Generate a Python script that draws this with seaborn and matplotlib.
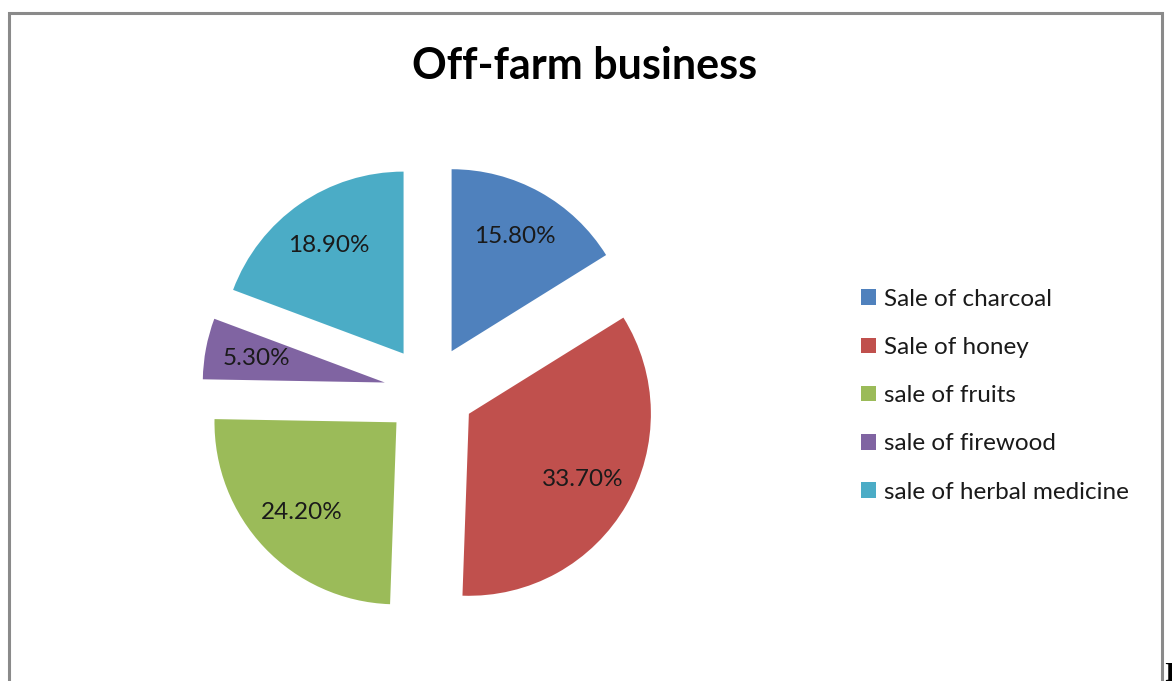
import matplotlib
matplotlib.use("Agg")
import matplotlib.pyplot as plt
from matplotlib.patches import Rectangle, Patch
import seaborn as sns

# Off-farm business activities and their shares (%)
categories = ["Sale of charcoal", "Sale of honey", "sale of fruits",
              "sale of firewood", "sale of herbal medicine"]
shares = [15.8, 33.7, 24.2, 5.3, 18.9]
colors = ["#4F81BD", "#C0504D", "#9BBB59", "#8064A2", "#4BACC6"]
title = "Off-farm business"

sns.set_theme(style="white")
plt.rcParams["font.family"] = ["Lato", "DejaVu Sans"]

W, H = 1172, 681
fig = plt.figure(figsize=(W / 100, H / 100), dpi=100)
fig.patch.set_facecolor("white")

# chart border (bottom edge runs off the canvas)
fig.patches.append(Rectangle((9 / W, -0.05), (1162 - 9) / W, 1.05 - 13 / H,
                             transform=fig.transFigure, fill=False,
                             edgecolor="#8a8a8a", linewidth=2.2))

# pie axes: square in pixels, centred on the pie centre
cx, cy, R, half = 429.5, 391.0, 182.0, 245.0
ax = fig.add_axes([(cx - half) / W, (H - cy - half) / H, 2 * half / W, 2 * half / H])
total = sum(shares)
wedges, texts, autotexts = ax.pie(
    shares, colors=colors, startangle=90, counterclock=False,
    explode=[0.25] * len(shares), radius=1.0,
    autopct=lambda p: f"{p * total / 100:.2f}%", pctdistance=0.72,
    wedgeprops=dict(linewidth=0),
    textprops=dict(color="#1a1a1a", fontsize=17.5))
lim = half / R
ax.set_xlim(-lim, lim)
ax.set_ylim(-lim, lim)
ax.set_aspect("equal")
ax.axis("off")

fig.text(585 / W, 1 - 66 / H, title, ha="center", va="center",
         fontsize=31, fontweight="bold", color="black")

handles = [Patch(facecolor=c, edgecolor="none") for c in colors]
fig.legend(handles, categories, loc="upper left",
           bbox_to_anchor=(851 / W, 1 - 279 / H), frameon=False,
           fontsize=17.5, handlelength=0.62, handleheight=0.62,
           handletextpad=0.35, labelspacing=1.12, borderaxespad=0,
           labelcolor="#1a1a1a")

# fragment of surrounding page text at the lower-right corner
fig.text(1164 / W, -6 / H, "I", ha="left", va="bottom", fontsize=20,
         fontweight="bold", family="Liberation Serif", color="black")

fig.savefig("out.png", dpi=100, facecolor="white")
